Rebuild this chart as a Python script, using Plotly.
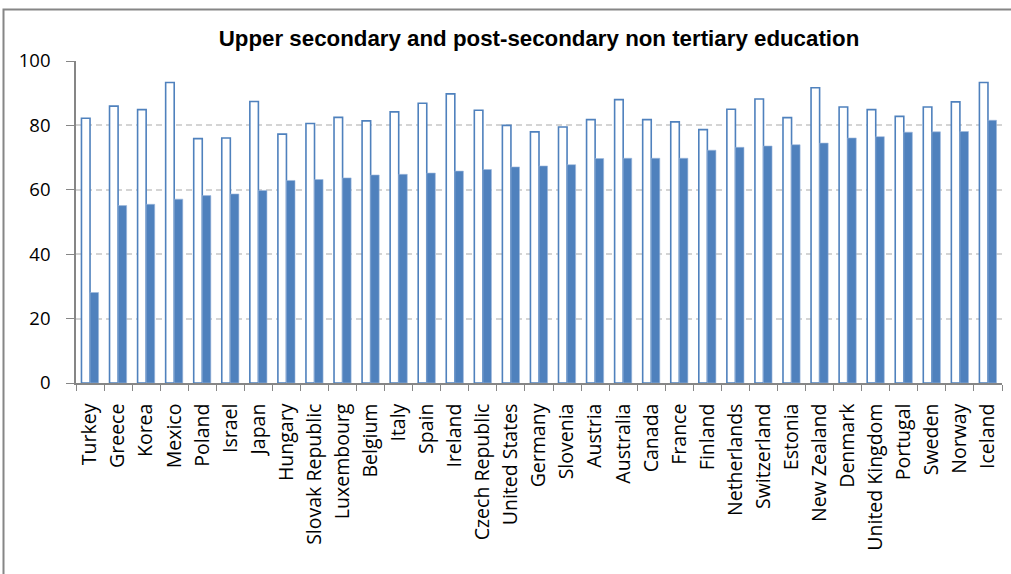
import plotly.graph_objects as go

countries = ["Turkey", "Greece", "Korea", "Mexico", "Poland", "Israel", "Japan", "Hungary",
             "Slovak Republic", "Luxembourg", "Belgium", "Italy", "Spain", "Ireland",
             "Czech Republic", "United States", "Germany", "Slovenia", "Austria", "Australia",
             "Canada", "France", "Finland", "Netherlands", "Switzerland", "Estonia",
             "New Zealand", "Denmark", "United Kingdom", "Portugal", "Sweden", "Norway", "Iceland"]

outline_values = [82.2, 86.0, 84.9, 93.3, 75.9, 76.1, 87.4, 77.3, 80.6, 82.5, 81.4, 84.2,
                  86.9, 89.8, 84.7, 80.0, 78.0, 79.5, 81.8, 88.0, 81.8, 81.1, 78.7, 85.0,
                  88.2, 82.4, 91.7, 85.7, 84.9, 82.8, 85.7, 87.3, 93.3]

filled_values = [28.1, 55.1, 55.5, 57.1, 58.2, 58.7, 59.8, 62.9, 63.2, 63.7, 64.6, 64.8,
                 65.2, 65.8, 66.3, 67.1, 67.4, 67.8, 69.7, 69.8, 69.8, 69.8, 72.3, 73.2,
                 73.6, 74.0, 74.5, 76.1, 76.5, 77.9, 78.0, 78.1, 81.6]

y_ticks = [0, 20, 40, 60, 80, 100]

BLUE = "#4F81BD"
GREY = "#868686"

fig = go.Figure()
fig.add_trace(go.Bar(x=countries, y=outline_values,
                     marker=dict(color="white", line=dict(color=BLUE, width=1.6)),
                     showlegend=False))
fig.add_trace(go.Bar(x=countries, y=filled_values,
                     marker=dict(color=BLUE, line=dict(color="#9DB9DD", width=0.6)),
                     showlegend=False))

fig.update_layout(
    width=1011, height=574,
    margin=dict(l=76, r=9, t=61, b=190.5),
    paper_bgcolor="white", plot_bgcolor="white",
    barmode="group", bargap=0.39, bargroupgap=0,
    font=dict(family="Open Sans", color="black"),
    title=dict(text="<b>Upper secondary and post-secondary non tertiary education</b>",
               font=dict(family="Liberation Sans", size=22.3, color="black"),
               x=0.5, xref="paper", xanchor="center",
               y=1 - 38 / 574, yref="container", yanchor="middle"),
    xaxis=dict(showline=True, linecolor=GREY, linewidth=1.6,
               ticks="outside", ticklen=6, tickcolor=GREY, tickwidth=1.3,
               tickson="boundaries", tickangle=-90,
               tickfont=dict(family="Open Sans", size=19.5, color="black"),
               ticklabelstandoff=11,
               showgrid=False),
    yaxis=dict(range=[0, 100], tickvals=y_ticks, showline=True, linecolor=GREY, linewidth=1.6,
               ticks="outside", ticklen=8, tickcolor=GREY, tickwidth=1.3,
               tickfont=dict(family="Open Sans", size=18.5, color="black"),
               ticklabelstandoff=12,
               showgrid=True, gridcolor="#D4D4D4", gridwidth=1.5, griddash="6px,4px",
               zeroline=False),
    shapes=[dict(type="rect", xref="paper", yref="paper",
                 x0=(3.5 - 76) / 926, x1=(1016 - 76) / 926,
                 y0=(383.5 - 580) / 322.5, y1=(383.5 - 9.5) / 322.5,
                 line=dict(color=GREY, width=2), fillcolor="rgba(0,0,0,0)", layer="below")],
)

fig.write_html("out.html", config={"displayModeBar": False},
               post_script="document.body.style.margin='0px';document.body.style.overflow='hidden';")
